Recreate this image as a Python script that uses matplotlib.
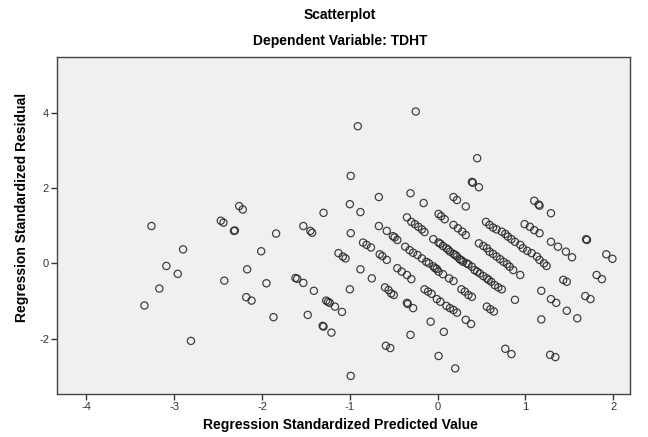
import numpy as np
import matplotlib
matplotlib.use("Agg")
import matplotlib.pyplot as plt

plt.rcParams['font.family'] = ['Liberation Sans', 'DejaVu Sans']
plt.rcParams['axes.unicode_minus'] = False

# DATA (standardized predicted value, standardized residual)
pred = [
    # top diagonal
    -0.25, 0.45, 1.10, 1.15, 1.16, 1.29, 1.69, 1.70, 1.92, 1.99,
    # second diagonal
    0.39, 0.40, 0.47, 0.99, 1.05, 1.10, 1.16, 1.29, 1.37, 1.46, 1.53, 1.81, 1.87,
    # third diagonal
    -0.91, 0.18, 0.22, 0.32, 0.55, 0.59, 0.63, 0.67, 0.73, 0.77, 0.80, 0.84, 0.88,
    0.94, 0.97, 1.02, 1.07, 1.13, 1.16, 1.21, 1.24, 1.43, 1.47, 1.68, 1.74,
    # fourth diagonal
    -0.31, -0.16, 0.01, 0.04, 0.08, 0.18, 0.23, 0.28, 0.32, 0.47, 0.52, 0.56,
    0.59, 0.63, 0.67, 0.71, 0.75, 0.79, 0.82, 0.86, 0.94, 1.18, 1.29, 1.35, 1.47, 1.59,
    # fifth diagonal (densest)
    -0.99, -0.67, -0.35, -0.30, -0.26, -0.22, -0.18, -0.15, -0.05, 0.01, 0.06,
    0.10, 0.14, 0.18, 0.22, 0.25, 0.29, 0.33, 0.39, 0.42, 0.48, 0.52, 0.56, 0.61,
    0.65, 0.69, 0.73, 0.03, 0.12, 0.20, 0.27, 0.35, 0.45, 0.58, 0.88, 1.18,
    # sixth diagonal
    -1.00, -0.88, -0.67, -0.58, -0.51, -0.49, -0.46, -0.37, -0.32, -0.28, -0.23,
    -0.18, -0.13, -0.10, -0.05, -0.01, -0.03, 0.01, 0.06, 0.13, 0.18, 0.27, 0.31,
    0.35, 0.39, 0.56, 0.60, 0.64, 1.28, 1.34,
    # seventh diagonal
    -1.30, -0.99, -0.85, -0.81, -0.76, -0.66, -0.63, -0.58, -0.46, -0.41, -0.35,
    -0.30, -0.15, -0.11, -0.07, -0.01, 0.03, 0.10, 0.14, 0.18, 0.22, 0.32, 0.38,
    0.77, 0.84,
    # eighth diagonal
    -1.53, -1.45, -1.43, -1.13, -1.08, -1.05, -0.88, -0.75, -0.60, -0.56, -0.53,
    -0.50, -0.35, -0.34, -0.28, -0.08, 0.07,
    # ninth diagonal
    -2.26, -2.22, -1.84, -1.00, -0.31, 0.01, 0.20,
    # tenth diagonal
    -2.47, -2.44, -2.32, -2.31, -2.01, -1.62, -1.60, -1.53, -1.41, -1.27, -1.25,
    -1.23, -1.17, -1.09, -0.59, -0.54,
    # lower diagonals
    -2.17, -1.95, -1.48, -1.31, -1.30, -1.21,
    -3.26, -2.90, -2.43, -2.18, -2.12, -1.87, -0.99,
    -3.09, -2.96, -3.17, -3.34, -2.81,
]
resid = [
    4.03, 2.79, 1.66, 1.56, 1.53, 1.33, 0.64, 0.62, 0.24, 0.12,
    2.16, 2.14, 2.02, 1.04, 0.97, 0.88, 0.80, 0.57, 0.44, 0.31, 0.16, -0.31, -0.42,
    3.64, 1.76, 1.68, 1.51, 1.10, 1.02, 0.95, 0.90, 0.84, 0.78, 0.71, 0.64, 0.57,
    0.49, 0.40, 0.33, 0.27, 0.18, 0.09, 0.00, -0.07, -0.44, -0.49, -0.87, -0.95,
    1.86, 1.60, 1.31, 1.25, 1.17, 1.02, 0.93, 0.84, 0.75, 0.53, 0.46, 0.40,
    0.31, 0.25, 0.18, 0.11, 0.04, -0.02, -0.09, -0.18, -0.31, -0.73, -0.95, -1.05, -1.26, -1.46,
    2.32, 1.76, 1.22, 1.10, 1.04, 0.97, 0.90, 0.83, 0.64, 0.55, 0.46,
    0.40, 0.31, 0.25, 0.18, 0.11, 0.04, 0.00, -0.09, -0.18, -0.27, -0.34, -0.40, -0.49,
    -0.58, -0.64, -0.69, 0.52, 0.36, 0.22, 0.08, -0.03, -0.22, -0.44, -0.97, -1.49,
    1.57, 1.36, 0.99, 0.86, 0.72, 0.69, 0.62, 0.44, 0.35, 0.28, 0.22,
    0.13, 0.04, 0.00, -0.08, -0.15, -0.13, -0.22, -0.29, -0.40, -0.47, -0.69, -0.75,
    -0.84, -0.89, -1.15, -1.22, -1.28, -2.43, -2.49,
    1.34, 0.80, 0.55, 0.49, 0.42, 0.24, 0.19, 0.09, -0.13, -0.22, -0.31,
    -0.42, -0.69, -0.75, -0.81, -0.95, -1.02, -1.13, -1.19, -1.24, -1.31, -1.50, -1.61,
    -2.27, -2.41,
    0.99, 0.86, 0.81, 0.27, 0.18, 0.13, -0.16, -0.40, -0.64, -0.71, -0.80,
    -0.84, -1.05, -1.08, -1.19, -1.55, -1.82,
    1.52, 1.43, 0.79, -0.69, -1.90, -2.46, -2.79,
    1.13, 1.08, 0.86, 0.87, 0.32, -0.39, -0.41, -0.52, -0.73, -0.99, -1.02,
    -1.05, -1.15, -1.29, -2.19, -2.25,
    -0.16, -0.53, -1.37, -1.66, -1.68, -1.84,
    0.99, 0.37, -0.46, -0.90, -0.99, -1.43, -2.99,
    -0.07, -0.28, -0.67, -1.12, -2.06,
]

x_ticks = [-4, -3, -2, -1, 0, 1, 2]
y_ticks = [-2, 0, 2, 4]

fig = plt.figure(figsize=(6.48, 4.37), dpi=100)
ax = fig.add_axes([0.0887, 0.0984, 0.8835, 0.7705])
ax.set_facecolor('#f0f0f0')

ax.scatter(pred, resid, s=27, facecolors='none', edgecolors='#222222',
           linewidths=0.9, alpha=0.85)

ax.set_xlim(-4.33, 2.19)
ax.set_ylim(-3.47, 5.47)
ax.set_xticks(x_ticks)
ax.set_yticks(y_ticks)
ax.tick_params(direction='out', length=4, width=1, colors='#333333',
               labelsize=8, pad=2)

for s in ax.spines.values():
    s.set_color('#444444')
    s.set_linewidth(1)

fig.text(0.525, 0.966, 'Scatterplot', ha='center', va='center',
         fontsize=10, fontweight='bold')
fig.text(0.525, 0.906, 'Dependent Variable: TDHT', ha='center', va='center',
         fontsize=10, fontweight='bold')
fig.text(0.525, 0.027, 'Regression Standardized Predicted Value',
         ha='center', va='center', fontsize=10, fontweight='bold')
fig.text(0.034, 0.525, 'Regression Standardized Residual', rotation=90,
         ha='center', va='center', fontsize=10, fontweight='bold')

fig.savefig('out.png', dpi=100)
